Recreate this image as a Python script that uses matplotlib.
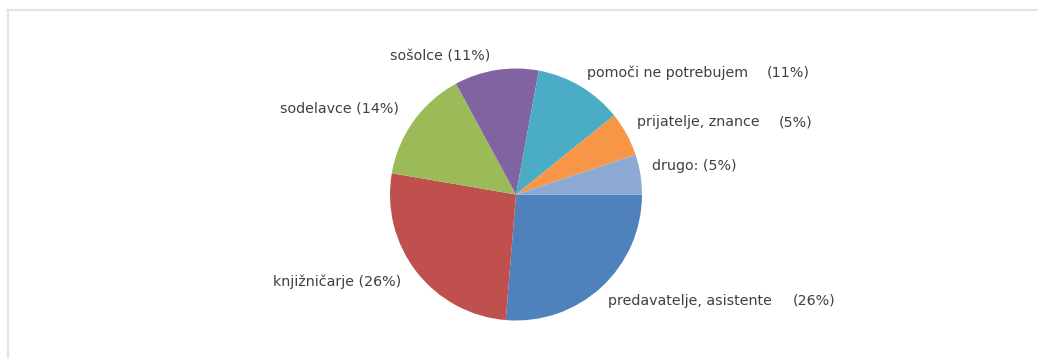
import matplotlib
matplotlib.use("Agg")
import matplotlib.pyplot as plt
from matplotlib.lines import Line2D

# Data (clockwise from 3 o'clock)
categories = ["predavatelje, asistente", "knjižničarje", "sodelavce", "sošolce",
              "pomoči ne potrebujem", "prijatelje, znance", "drugo:"]
values = [26.3, 26.4, 14.4, 10.8, 11.3, 5.7, 5.1]
pct_labels = ["(26%)", "(26%)", "(14%)", "(11%)", "(11%)", "(5%)", "(5%)"]
colors = ["#4F81BD", "#C0504D", "#9BBB59", "#8064A2", "#4BACC6", "#F79646", "#8EA9D3"]

# Layout (pixel coordinates, y measured from top)
W, H = 1038, 358
center = (516, 194.5)
radius = 126
# (left x, center y, right x of percent or None when single-spaced)
label_pos = [(608, 301, 835), (273, 282, None), (280, 108, None), (390, 56, None),
             (587, 73, 810), (637, 122, 813), (652, 166, None)]

fig = plt.figure(figsize=(W / 100, H / 100), dpi=100)
ax = fig.add_axes([0, 0, 1, 1])
ax.set_xlim(0, W)
ax.set_ylim(0, H)
ax.set_aspect("equal")
ax.axis("off")

ax.pie(values, colors=colors, startangle=0, counterclock=False,
       center=(center[0], H - center[1]), radius=radius,
       wedgeprops=dict(linewidth=0), frame=True)
ax.set_xlim(0, W)
ax.set_ylim(0, H)
ax.axis("off")

txt_kw = dict(fontsize=10.3, color="#404040", va="center", family="DejaVu Sans")
for name, pct, (lx, ly, rx) in zip(categories, pct_labels, label_pos):
    if rx is None:
        ax.text(lx, H - ly, f"{name} {pct}", ha="left", **txt_kw)
    else:
        ax.text(lx, H - ly, name, ha="left", **txt_kw)
        ax.text(rx, H - ly, pct, ha="right", **txt_kw)

# light frame lines (top and left)
ax.add_line(Line2D([7, W], [H - 10, H - 10], color="#E4E4E4", linewidth=1.6))
ax.add_line(Line2D([7.5, 7.5], [0, H - 10], color="#E4E4E4", linewidth=1.6))

fig.savefig("out.png", dpi=100, facecolor="white")
